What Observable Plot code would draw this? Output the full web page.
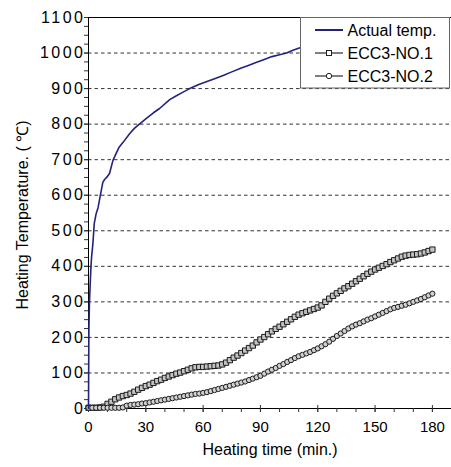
<!DOCTYPE html>
<html><head><meta charset="utf-8">
<script src="https://cdn.jsdelivr.net/npm/d3@7"></script>
<script src="https://cdn.jsdelivr.net/npm/@observablehq/plot@0.6"></script>
<style>
html,body{margin:0;padding:0;background:#fff;}
#wrap{position:relative;width:451px;height:467px;font-family:"Liberation Sans",Arial,sans-serif;}
#legend{position:absolute;left:300px;top:17px;}
</style></head><body><div id="wrap"></div>
<script>
// Actual furnace temperature (min, °C)
const actualTime = [0,0.2,0.5,0.9,1.3,1.6,2.3,3,4,5,6,7.5,8.5,9.5,11,12.8,14,15.9,18,21.5,24,26.8,30.3,34,37.2,42.5,46,49.5,53,57.4,62,66,70.5,75,80,84,88,92,96,100,103.7,107,110.7];
const actualTemp = [0,220,300,352,400,425,464,520,548,565,594,636,645,650,661,698,712,734,748,773,788,801,816,832,844,869,880,890,900,911,920,928,937,947,958,966,974,982,990,995,1000,1008,1015];

// Specimen readings (min)
const eccTime = [0,2,4,6,8,10,12,14,16,18,20,22,24,26,28,30,32,34,36,38,40,42,44,46,48,50,52,54,56,58,60,62,64,66,68,70,72,74,76,78,80,82,84,86,88,90,92,94,96,98,100,102,104,106,108,110,112,114,116,118,120,122,124,126,128,130,132,134,136,138,140,142,144,146,148,150,152,154,156,158,160,162,164,166,168,170,172,174,176,178,180];
const ecc1 = [2,2,2,3,5,13,19,26,31,35,38,42,47,53,58,63,67,72,77,81,86,90,94,98,101,105,109,113,116,117,117,118,119,120,121,124,129,136,143,149,156,163,170,177,186,194,201,209,217,224,230,237,244,251,258,264,268,272,276,280,284,290,300,309,317,324,331,338,344,351,358,365,372,379,385,391,396,401,406,412,417,422,427,430,432,433,434,436,439,443,447];
const ecc2 = [2,2,2,2,2,2,2,2,2,3,8,10,11,12,14,15,17,19,21,23,25,27,29,31,33,35,37,39,41,42,44,46,49,52,55,58,61,64,67,70,73,76,80,84,88,92,98,104,109,114,120,125,131,136,142,147,151,155,159,164,169,175,181,188,196,204,211,218,225,231,236,240,245,250,254,259,264,269,274,279,283,286,289,292,296,300,304,308,313,318,323];

const seriesNames = ["Actual temp.","ECC3-NO.1","ECC3-NO.2"];
const xMajor = [0,30,60,90,120,150,180];
const yMajor = [0,100,200,300,400,500,600,700,800,900,1000,1100];
const gridY = [100,200,300,400,500,600,700,800,900,1000];
const xTitle = "Heating time (min.)";
const yTitle = "Heating Temperature. ( \u2103)";

const xMinor = d3.range(0, 181, 10);
const yMinor = d3.range(0, 1101, 25);

const actual = actualTime.map((t,i)=>({t, v: actualTemp[i]}));
const s1 = eccTime.map((t,i)=>({t, v: ecc1[i]}));
const s2 = eccTime.map((t,i)=>({t, v: ecc2[i]}));

const navy = "#23237d";

const chart = Plot.plot({
  width: 451, height: 467,
  marginLeft: 88, marginRight: 0, marginTop: 17, marginBottom: 59,
  x: {domain: [0, 190], label: null},
  y: {domain: [0, 1100], label: null},
  style: {fontFamily: "'Liberation Sans', Arial, sans-serif", fontSize: "15px", color: "#000", background: "#fff"},
  marks: [
    Plot.ruleY(gridY, {stroke: "#333", strokeDasharray: "3.5,3", strokeWidth: 1}),
    Plot.ruleY([1100], {stroke: "#000", strokeWidth: 1}),
    Plot.ruleY([0], {stroke: "#000", strokeWidth: 1}),
    Plot.ruleX([0], {stroke: "#000", strokeWidth: 1}),
    Plot.axisY({ticks: yMinor, tickSize: 4, tickFormat: () => "", stroke: "#333"}),
    Plot.axisY({ticks: yMajor, tickSize: 4, tickPadding: 1, tickFormat: d => String(d), fontSize: 16, stroke: "#333"}),
    Plot.axisX({ticks: xMinor, tickSize: 4, tickFormat: () => "", stroke: "#333"}),
    Plot.axisX({ticks: xMajor, tickSize: 7, dy: -3, tickFormat: () => "", stroke: "#333"}),
    Plot.axisX({ticks: xMajor, tickSize: 0, tickPadding: 13, tickFormat: d => String(d), fontSize: 15}),
    Plot.line(s1, {x: "t", y: "v", stroke: "#000", strokeWidth: 1}),
    Plot.dot(s1, {x: "t", y: "v", symbol: "square", r: 3, fill: "#c4c4c4", stroke: "#1a1a1a", strokeWidth: 1}),
    Plot.line(s2, {x: "t", y: "v", stroke: "#000", strokeWidth: 1}),
    Plot.dot(s2, {x: "t", y: "v", symbol: "circle", r: 2.6, fill: "#d0d0d0", stroke: "#1a1a1a", strokeWidth: 1}),
    Plot.line(actual, {x: "t", y: "v", stroke: navy, strokeWidth: 1.6}),
    Plot.text([xTitle], {frameAnchor: "bottom", text: d => d, dy: 35, lineAnchor: "top", fontSize: 16})
  ]
});

d3.select(chart).selectAll('g[aria-label="y-axis tick label"] text').style("letter-spacing", "2.5px").attr("dx", "2");

// y-axis title
d3.select(chart).append("text")
  .attr("transform", "translate(27.5,215) rotate(-90)")
  .attr("text-anchor", "middle")
  .attr("fill", "#000")
  .style("font-size", "16px")
  .text(yTitle);

const wrap = document.getElementById("wrap");
wrap.appendChild(chart);

// legend
const lg = d3.select(wrap).append("svg").attr("id","legend").attr("width",151).attr("height",72)
  .style("font-family","'Liberation Sans', Arial, sans-serif").style("font-size","16px");
lg.append("rect").attr("x",0.5).attr("y",0.5).attr("width",149).attr("height",70.5).attr("fill","#fff").attr("stroke","#666");
const rows = [13, 36, 59];
rows.forEach((ry, i) => {
  lg.append("line").attr("x1",15).attr("x2",43).attr("y1",ry).attr("y2",ry)
    .attr("stroke", i === 0 ? navy : "#000").attr("stroke-width", i === 0 ? 2 : 1);
  if (i === 1) lg.append("rect").attr("x",26.5).attr("y",ry-2.5).attr("width",5).attr("height",5).attr("fill","#fff").attr("stroke","#222");
  if (i === 2) lg.append("circle").attr("cx",29).attr("cy",ry).attr("r",2.7).attr("fill","#fff").attr("stroke","#222");
  lg.append("text").attr("x",47.5).attr("y",ry+5.7).attr("fill","#000").text(seriesNames[i]);
});
</script>
</body></html>
